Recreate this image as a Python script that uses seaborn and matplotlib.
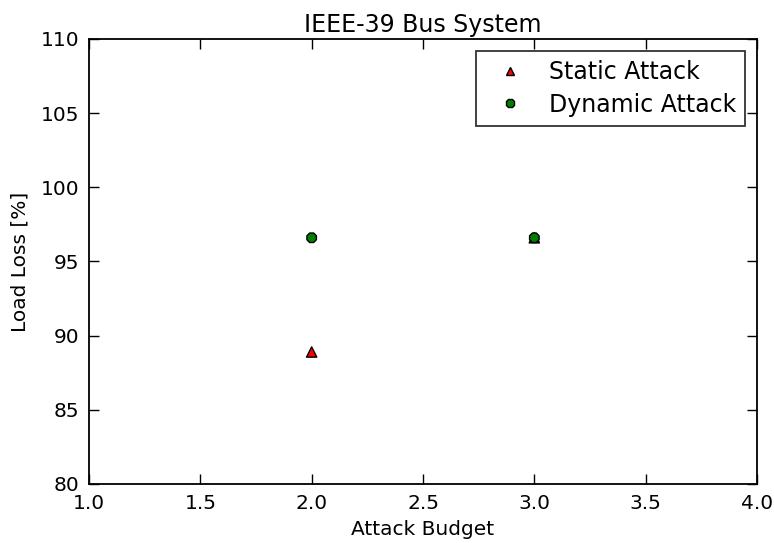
import matplotlib
matplotlib.use("Agg")
import matplotlib.pyplot as plt
import seaborn as sns
import pandas as pd

budget = [2.0, 3.0]
static_loss = [88.9, 96.6]
dynamic_loss = [96.6, 96.6]

df = pd.DataFrame({
    "budget": budget + budget,
    "loss": static_loss + dynamic_loss,
    "attack": ["Static Attack"] * 2 + ["Dynamic Attack"] * 2,
})

sns.set_style("ticks")
plt.rcParams["font.family"] = ["DejaVu Sans"]
plt.rcParams["text.color"] = "black"
plt.rcParams["axes.labelcolor"] = "black"

fig = plt.figure(figsize=(7.74, 5.43), dpi=100)
ax = fig.add_axes([89 / 774, 1 - 484 / 543, (757 - 89) / 774, (484 - 39) / 543])

sns.scatterplot(
    data=df, x="budget", y="loss", hue="attack", style="attack",
    palette={"Static Attack": "#ff0000", "Dynamic Attack": "#008000"},
    markers={"Static Attack": "^", "Dynamic Attack": "8"},
    s=55, edgecolor="black", linewidth=1.0, ax=ax, zorder=3,
)

ax.set_xlim(1.0, 4.0)
ax.set_ylim(80, 110)
ax.set_xticks([1.0, 1.5, 2.0, 2.5, 3.0, 3.5, 4.0])
ax.set_yticks([80, 85, 90, 95, 100, 105, 110])
ax.set_xlabel("Attack Budget", fontsize=14.5, labelpad=5)
ax.set_ylabel("Load Loss [%]", fontsize=14.5, labelpad=8)
ax.set_title("IEEE-39 Bus System", fontsize=17, pad=5)
ax.tick_params(direction="in", top=True, right=True, length=7, width=1,
               labelsize=14.5, colors="black", pad=7)
for sp in ax.spines.values():
    sp.set_visible(True)
    sp.set_linewidth(1.3)
    sp.set_color("black")

leg = ax.legend(loc="upper right", fontsize=17, frameon=True, fancybox=False,
                edgecolor="black", borderaxespad=0.5, markerscale=0.85,
                labelspacing=0.35, handletextpad=0.65)
leg.get_frame().set_linewidth(1.3)
for t in leg.get_texts():
    t.set_color("black")
ax.grid(False)

fig.savefig("out.png", dpi=100)
